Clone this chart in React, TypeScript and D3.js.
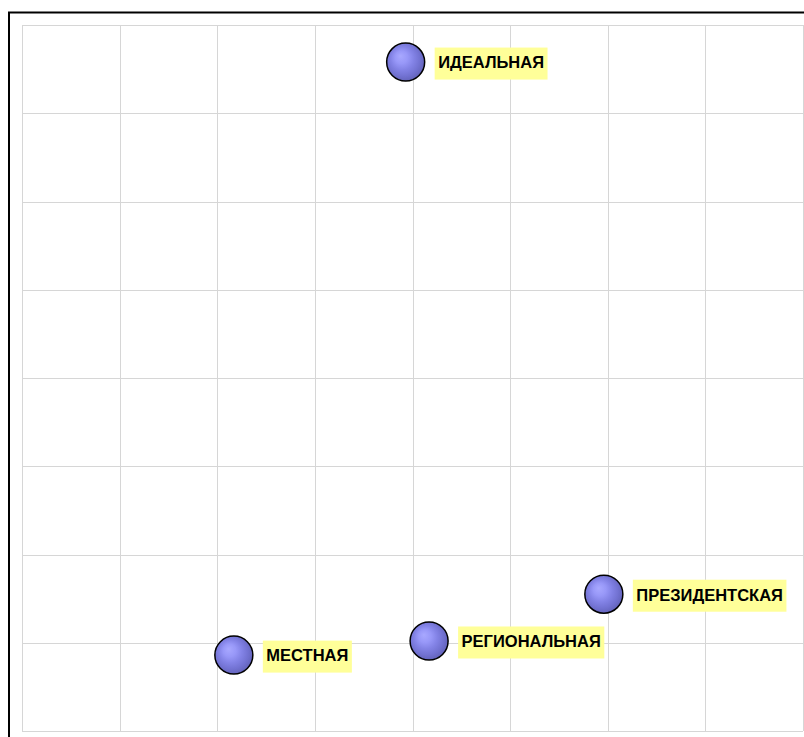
import React from 'react'
import * as d3 from 'd3'

// point labels and positions (grid units, 0..8 on both axes)
const labels = ['ИДЕАЛЬНАЯ', 'ПРЕЗИДЕНТСКАЯ', 'РЕГИОНАЛЬНАЯ', 'МЕСТНАЯ']
const xValues = [3.93, 5.96, 4.17, 2.17]
const yValues = [7.58, 1.55, 1.02, 0.86]
const gridTicks = [0, 1, 2, 3, 4, 5, 6, 7, 8]

const width = 804
const height = 737
const plot = { left: 22, top: 25, right: 803, bottom: 731 }
const font = 'bold 16.5px "Liberation Sans", Arial, sans-serif'

const measure = (() => {
  let ctx: CanvasRenderingContext2D | null = null
  return (t: string) => {
    if (!ctx) ctx = document.createElement('canvas').getContext('2d')
    if (!ctx) return t.length * 11
    ctx.font = font
    return ctx.measureText(t).width
  }
})()

const App = () => {
  const x = d3.scaleLinear().domain([0, 8]).range([plot.left, plot.right])
  const y = d3.scaleLinear().domain([0, 8]).range([plot.bottom, plot.top])
  const r = 19

  return (
    <div style={{ position: 'absolute', left: 0, top: 0 }}>
      <svg width={width} height={height} style={{ display: 'block' }}>
        <defs>
          <radialGradient id="ball" cx="0.45" cy="0.45" r="0.55" fx="0.36" fy="0.34">
            <stop offset="0" stopColor="#a8a8ff" />
            <stop offset="0.3" stopColor="#9898f8" />
            <stop offset="0.55" stopColor="#8383e6" />
            <stop offset="0.8" stopColor="#7272d2" />
            <stop offset="1" stopColor="#6464bc" />
          </radialGradient>
        </defs>
        <rect width={width} height={height} fill="#fff" />
        <rect x={9} y={12.5} width={900} height={900} fill="none" stroke="#000" strokeWidth={2} />

        <g stroke="#d6d6d6" strokeWidth={1}>
          {gridTicks.map(t => (
            <line key={'v' + t} x1={Math.round(x(t)) + 0.5} x2={Math.round(x(t)) + 0.5}
              y1={plot.top} y2={plot.bottom} />
          ))}
          {gridTicks.map(t => (
            <line key={'h' + t} y1={Math.round(y(t)) + 0.5} y2={Math.round(y(t)) + 0.5}
              x1={plot.left} x2={plot.right} />
          ))}
        </g>

        {labels.map((name, i) => {
          const cx = x(xValues[i])
          const cy = y(yValues[i])
          const tw = measure(name)
          const bx = cx + 29
          return (
            <g key={name}>
              <circle cx={cx} cy={cy} r={r} fill="url(#ball)" stroke="#000" strokeWidth={1.5} />
              <rect x={bx} y={cy - 14.5} width={tw + 7} height={32} fill="#ffff99" />
              <text x={bx + 3.5} y={cy + 2} dominantBaseline="middle"
                style={{ font }} fill="#000">{name}</text>
            </g>
          )
        })}
      </svg>
    </div>
  )
}

export default App
